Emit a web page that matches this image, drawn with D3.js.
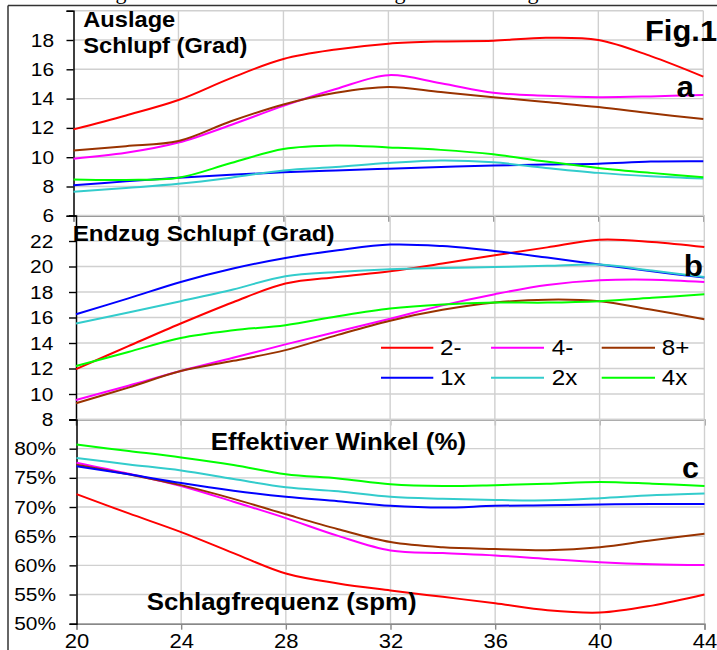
<!DOCTYPE html>
<html><head><meta charset="utf-8">
<script src="https://cdn.jsdelivr.net/npm/d3@7"></script>
<style>
html,body{margin:0;padding:0;background:#fff;}
svg{display:block;}
</style></head>
<body>
<svg id="chart" width="717" height="650"></svg>
<script>
// ---------- data ----------
const spm = [20, 22, 24, 26, 28, 30, 32, 34, 36, 38, 40, 42, 44];
const seriesNames = ["2-", "4-", "8+", "1x", "2x", "4x"];
const seriesColors = ["#ff0000", "#ff00ff", "#993300", "#0000ff", "#33cccc", "#00ff00"];
const xTicks = [20, 24, 28, 32, 36, 40, 44];

// Panel a: Auslage Schlupf (Grad)
const auslage2m = [11.9, 12.85, 13.9, 15.4, 16.7, 17.35, 17.75, 17.9, 17.95, 18.15, 18.0, 16.9, 15.5];
const auslage4m = [9.9, 10.3, 11.0, 12.2, 13.5, 14.65, 15.6, 15.05, 14.4, 14.2, 14.1, 14.15, 14.25];
const auslage8p = [10.45, 10.75, 11.1, 12.45, 13.6, 14.4, 14.8, 14.45, 14.1, 13.76, 13.42, 13.0, 12.6];
const auslage1x = [8.09, 8.35, 8.59, 8.8, 8.97, 9.1, 9.22, 9.33, 9.44, 9.5, 9.56, 9.7, 9.72];
const auslage2x = [7.64, 7.9, 8.18, 8.6, 9.1, 9.33, 9.6, 9.77, 9.65, 9.27, 8.93, 8.7, 8.54];
const auslage4x = [8.48, 8.45, 8.6, 9.6, 10.56, 10.8, 10.67, 10.5, 10.2, 9.7, 9.27, 8.93, 8.63];
const auslageTicks = [6, 8, 10, 12, 14, 16, 18];

// Panel b: Endzug Schlupf (Grad)
const endzug2m = [11.95, 13.75, 15.53, 17.2, 18.66, 19.18, 19.63, 20.23, 20.88, 21.5, 22.1, 21.93, 21.53];
const endzug4m = [9.53, 10.65, 11.8, 12.84, 13.89, 14.9, 15.9, 16.95, 17.83, 18.55, 18.92, 18.97, 18.79];
const endzug8p = [9.27, 10.5, 11.8, 12.6, 13.44, 14.64, 15.75, 16.6, 17.17, 17.4, 17.28, 16.6, 15.87];
const endzug1x = [16.26, 17.5, 18.79, 19.84, 20.67, 21.27, 21.72, 21.6, 21.22, 20.7, 20.15, 19.62, 19.13];
const endzug2x = [15.53, 16.4, 17.28, 18.2, 19.24, 19.57, 19.78, 19.88, 19.96, 20.05, 20.15, 19.68, 19.18];
const endzug4x = [12.19, 13.3, 14.4, 15.0, 15.4, 16.1, 16.7, 17.02, 17.17, 17.17, 17.28, 17.54, 17.83];
const endzugTicks = [8, 10, 12, 14, 16, 18, 20, 22];

// Panel c: Effektiver Winkel (%)
const winkel2m = [72.2, 68.9, 65.7, 62.1, 58.6, 56.9, 55.7, 54.6, 53.5, 52.3, 51.9, 53.1, 55.0];
const winkel4m = [77.6, 75.7, 73.6, 70.9, 68.1, 65.05, 62.55, 62.1, 61.7, 61.1, 60.55, 60.2, 60.05];
const winkel8p = [77.25, 75.6, 73.75, 71.4, 68.75, 66.2, 64.0, 63.1, 62.8, 62.6, 63.1, 64.3, 65.4];
const winkel1x = [77.0, 75.6, 74.1, 72.8, 71.75, 71.0, 70.2, 69.9, 70.2, 70.3, 70.45, 70.5, 70.5];
const winkel2x = [78.4, 77.3, 76.25, 74.8, 73.4, 72.7, 71.75, 71.4, 71.2, 71.15, 71.5, 72.0, 72.3];
const winkel4x = [80.7, 79.6, 78.5, 77.2, 75.6, 74.9, 73.9, 73.6, 73.75, 74.0, 74.3, 74.0, 73.6];
const winkelTicks = [50, 55, 60, 65, 70, 75, 80];

// ---------- drawing ----------
const FONT = "'Liberation Sans', Arial, Helvetica, sans-serif";
const SX = 1.1; // horizontal stretch of the original's lettering
const svg = d3.select("#chart");

function label(x, y, str, size, weight, anchor, sx) {
  svg.append("text")
    .attr("transform", `translate(${x},${y}) scale(${sx || SX},1)`)
    .attr("font-family", FONT).attr("font-size", size)
    .attr("font-weight", weight || "normal")
    .attr("text-anchor", anchor || "start")
    .attr("fill", "#000").text(str);
}

// outer frame
svg.append("line").attr("x1", 8).attr("x2", 8).attr("y1", 5.5).attr("y2", 650)
  .attr("stroke", "#333").attr("stroke-width", 1.5);
svg.append("line").attr("x1", 8).attr("x2", 717).attr("y1", 5.5).attr("y2", 5.5)
  .attr("stroke", "#333").attr("stroke-width", 1.5);
// descenders of the caption line above (cut off)
[121, 400, 533].forEach(x => {
  svg.append("text").attr("x", x).attr("y", -1.5).attr("text-anchor", "middle")
    .attr("font-family", "'Liberation Serif', 'Times New Roman', serif")
    .attr("font-size", 22).text("g");
});

const panels = [
  { series: [auslage2m, auslage4m, auslage8p, auslage1x, auslage2x, auslage4x],
    domain: [6, 20], yr: [215.8, 10.7], xr: [73.5, 703.3], ticks: auslageTicks,
    pad: 10.7, fmt: d => d, xLabels: false },
  { series: [endzug2m, endzug4m, endzug8p, endzug1x, endzug2x, endzug4x],
    domain: [8, 24], yr: [419.5, 215.5], xr: [76, 704.3], ticks: endzugTicks,
    pad: 13.6, fmt: d => d, xLabels: false },
  { series: [winkel2m, winkel4m, winkel8p, winkel1x, winkel2x, winkel4x],
    domain: [50, 85], yr: [623.7, 419.5], xr: [76.5, 704.5], ticks: winkelTicks,
    pad: 11.6, fmt: d => d + "%", xLabels: true }
];

panels.forEach(p => {
  const x = d3.scaleLinear().domain([20, 44]).range(p.xr);
  const y = d3.scaleLinear().domain(p.domain).range(p.yr);
  const g = svg.append("g");
  const gridY = p.ticks.concat([p.domain[1]]);

  // horizontal grid
  g.selectAll(".hg").data(gridY).join("line")
    .attr("x1", p.xr[0]).attr("x2", p.xr[1])
    .attr("y1", d => y(d)).attr("y2", d => y(d))
    .attr("stroke", "#d0d0d0").attr("stroke-width", 1.4);
  // vertical grid
  g.selectAll(".vg").data(xTicks.slice(1)).join("line")
    .attr("x1", d => x(d)).attr("x2", d => x(d))
    .attr("y1", p.yr[1]).attr("y2", p.yr[0])
    .attr("stroke", "#d0d0d0").attr("stroke-width", 1.4);

  // x axis (bottom)
  const xa = g.append("g").attr("transform", `translate(0,${p.yr[0]})`)
    .call(d3.axisBottom(x).tickValues(xTicks).tickSize(6).tickPadding(3.8)
      .tickFormat(p.xLabels ? d3.format("d") : () => ""));
  xa.select(".domain").attr("stroke", "#888").attr("stroke-width", 1.4);
  xa.selectAll(".tick line").attr("stroke", "#888").attr("stroke-width", 1.4);
  xa.selectAll("text").attr("font-family", FONT).attr("font-size", 20)
    .attr("fill", "#000").attr("transform", `scale(${SX},1)`);

  // y axis
  const ya = g.append("g").attr("transform", `translate(${p.xr[0]},0)`)
    .call(d3.axisLeft(y).tickValues(gridY).tickSize(7).tickPadding(p.pad)
      .tickFormat(d => p.ticks.includes(d) ? p.fmt(d) : ""));
  ya.select(".domain").attr("stroke", "#000").attr("stroke-width", 1.5);
  ya.selectAll(".tick line").attr("stroke", "#000").attr("stroke-width", 1.4);
  ya.selectAll("text").attr("font-family", FONT).attr("font-size", 19)
    .attr("fill", "#000").attr("transform", `scale(${SX},1)`);

  // series
  const line = d3.line().x((d, i) => x(spm[i])).y(d => y(d))
    .curve(d3.curveCatmullRom.alpha(0.5));
  p.series.forEach((s, k) => {
    g.append("path").datum(s).attr("d", line)
      .attr("fill", "none").attr("stroke", seriesColors[k])
      .attr("stroke-width", 2).attr("stroke-linejoin", "round");
  });
});

// titles and panel letters
label(83.3, 27, "Auslage", 21.5, "bold");
label(83.3, 53, "Schlupf (Grad)", 21.5, "bold");
label(72.7, 241, "Endzug Schlupf (Grad)", 22, "bold");
label(210.7, 450, "Effektiver Winkel (%)", 23.5, "bold");
label(146.7, 610, "Schlagfrequenz (spm)", 23.5, "bold");
label(645, 41, "Fig.1", 30, "bold", "start", 1.03);
label(694, 96.7, "a", 30, "bold", "end", 1.05);
label(703, 276, "b", 30, "bold", "end", 1.05);
label(699, 478, "c", 29, "bold", "end", 1.05);

// legend (3 columns x 2 rows)
const legX = [[381, 433.3, 440], [491, 544, 551.7], [601.7, 655, 661.7]];
const legY = [347.7, 377.7];
seriesNames.forEach((name, k) => {
  const col = k % 3, row = Math.floor(k / 3);
  svg.append("line").attr("x1", legX[col][0]).attr("x2", legX[col][1])
    .attr("y1", legY[row]).attr("y2", legY[row])
    .attr("stroke", seriesColors[k]).attr("stroke-width", 2);
  label(legX[col][2], legY[row] + 7.5, name, 22, "normal");
});
</script>
</body></html>
